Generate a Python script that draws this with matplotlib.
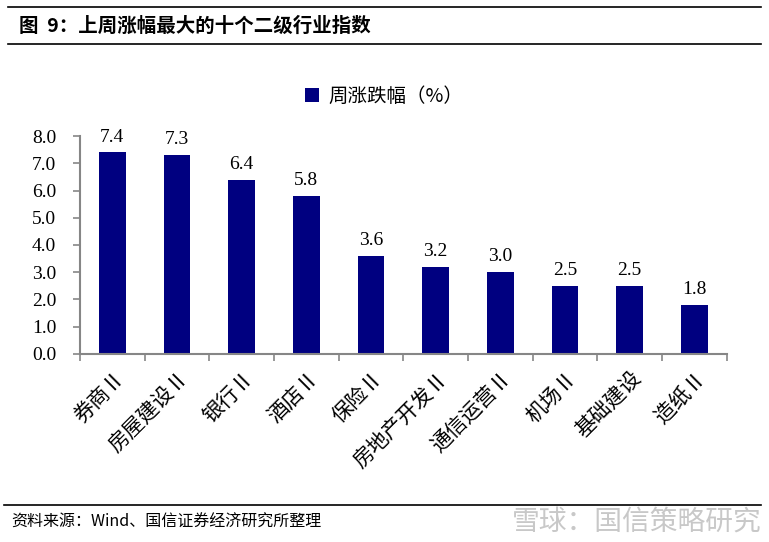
import numpy as np
import matplotlib.pyplot as plt
from matplotlib.lines import Line2D

plt.rcParams['font.family'] = ['Noto Sans CJK SC', 'DejaVu Sans']

# data
industries = ['券商Ⅱ', '房屋建设Ⅱ', '银行Ⅱ', '酒店Ⅱ', '保险Ⅱ',
              '房地产开发Ⅱ', '通信运营Ⅱ', '机场Ⅱ', '基础建设', '造纸Ⅱ']
weekly_change = [7.4, 7.3, 6.4, 5.8, 3.6, 3.2, 3.0, 2.5, 2.5, 1.8]
y_ticks = [0.0, 1.0, 2.0, 3.0, 4.0, 5.0, 6.0, 7.0, 8.0]

bar_color = '#000080'
spine_color = '#868686'

fig = plt.figure(figsize=(7.69, 5.42), dpi=100)
ax = fig.add_axes([0.104, 0.347, 0.841, 0.402])

x = np.arange(len(industries))
bars = ax.bar(x, weekly_change, width=0.41, color=bar_color, label='周涨跌幅（%）', zorder=2)

for xi, v in zip(x, weekly_change):
    ax.text(xi, v + 0.25, f'{v:.1f}', ha='center', va='bottom', fontsize=14,
            family='Liberation Serif')

ax.set_xlim(-0.5, len(industries) - 0.5)
ax.set_ylim(0, 8)
ax.set_yticks(y_ticks)
ax.set_yticklabels([f'{t:.1f}' for t in y_ticks], family='Liberation Serif', fontsize=14)

# category boundary ticks on x, labels at centers
ax.set_xticks(np.arange(len(industries) + 1) - 0.5)
ax.set_xticklabels([])
ax.tick_params(axis='x', length=5, color=spine_color, width=1.2, direction='out')
ax.tick_params(axis='y', length=5, color=spine_color, width=1.2, direction='out', pad=12)
for xi, lab in zip(x, industries):
    ax.text(xi + 0.02, -0.5, lab, rotation=45, ha='right', va='top',
            rotation_mode='anchor', fontsize=15)

for s in ['top', 'right']:
    ax.spines[s].set_visible(False)
for s in ['left', 'bottom']:
    ax.spines[s].set_color(spine_color)
    ax.spines[s].set_linewidth(1.5)

fig.legend(handles=[bars], loc='center', bbox_to_anchor=(0.5, 0.822),
           frameon=False, fontsize=14, handlelength=0.7, handleheight=0.7,
           handletextpad=0.5)

# title and frame lines
fig.add_artist(Line2D([0.01, 0.99], [0.987, 0.987], color='black', lw=1.2))
fig.add_artist(Line2D([0.01, 0.99], [0.919, 0.919], color='black', lw=1.2))
fig.text(0.025, 0.951, '图  9：上周涨幅最大的十个二级行业指数', fontsize=14,
         fontweight='bold', va='center', ha='left')

fig.add_artist(Line2D([0.005, 0.99], [0.069, 0.069], color='black', lw=1.2))
fig.text(0.015, 0.037, '资料来源：Wind、国信证券经济研究所整理', fontsize=11.5,
         va='center', ha='left')
fig.text(0.99, 0.037, '雪球：国信策略研究', fontsize=20, color='#c8c8c8',
         va='center', ha='right')

fig.savefig('out.png', dpi=100)
